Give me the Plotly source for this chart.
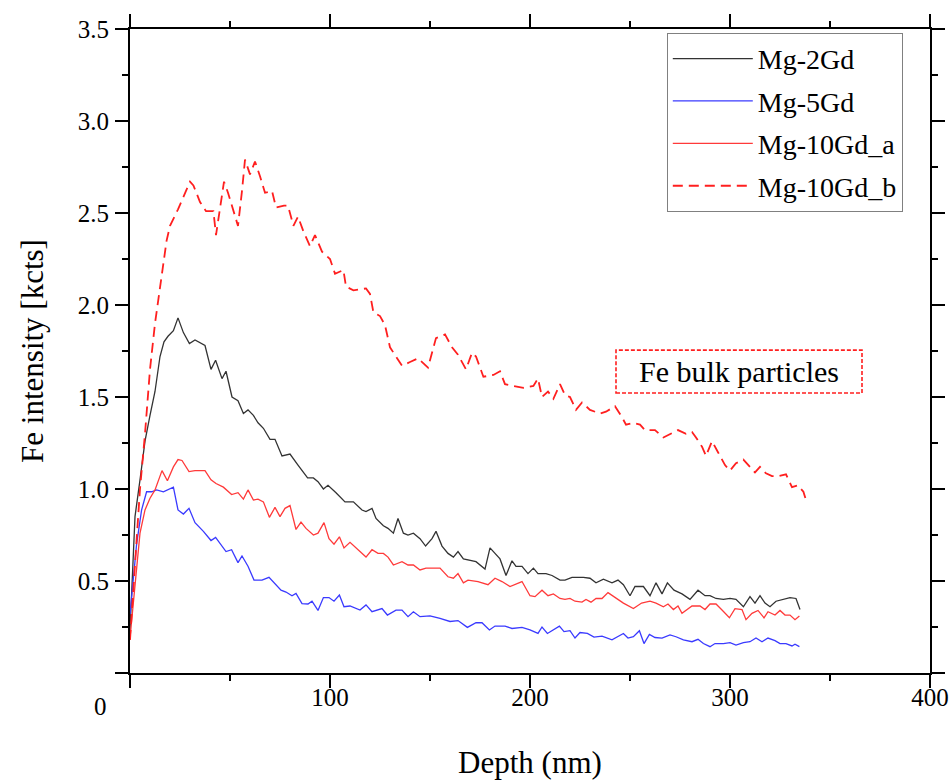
import plotly.graph_objects as go

# ---------------- data ----------------
d_2gd = [0, 2.5, 5, 7.5, 10, 12.5, 15, 17, 19, 21.7, 24, 26.7, 29.7, 32.5, 37.5, 40.5, 42.8, 46, 48, 51,
         54, 56.7, 59, 61.7, 64, 66.7, 70, 72.5, 76, 80, 84, 88.8, 91.7, 94, 96.7, 99, 103, 107.5, 111.7, 116,
         118, 121, 123, 126.7, 129, 131.7, 134, 136.7, 139, 141.7, 145, 147.8, 151, 153, 156, 159, 161.7, 164,
         166.7, 170, 173, 177.5, 180, 182.5, 185, 188, 191, 193, 196, 199, 201.7, 204, 208, 211, 215, 217.5,
         221, 226.7, 230, 233, 236.7, 241, 244, 246.7, 250, 252.5, 256.7, 260, 263, 266, 268.7, 272, 276, 280,
         284, 287.5, 290, 293, 296.7, 300, 303, 306.7, 310, 312.5, 315, 317.5, 320, 323, 326.7, 330, 333, 335]
v_2gd = [0.23, 0.85, 1.05, 1.26, 1.40, 1.53, 1.72, 1.80, 1.83, 1.86, 1.93, 1.85, 1.79, 1.81, 1.78, 1.65, 1.70, 1.60, 1.64, 1.50,
         1.48, 1.41, 1.43, 1.40, 1.36, 1.33, 1.27, 1.27, 1.18, 1.19, 1.13, 1.06, 1.06, 1.04, 1.00, 1.02, 0.98, 0.93, 0.93, 0.886,
         0.877, 0.895, 0.84, 0.80, 0.786, 0.76, 0.84, 0.76, 0.75, 0.76, 0.73, 0.69, 0.73, 0.77, 0.69, 0.65, 0.63, 0.66,
         0.62, 0.61, 0.605, 0.565, 0.68, 0.65, 0.62, 0.53, 0.61, 0.58, 0.58, 0.54, 0.57, 0.54, 0.54, 0.53, 0.505, 0.505,
         0.52, 0.52, 0.515, 0.49, 0.51, 0.49, 0.505, 0.48, 0.42, 0.47, 0.47, 0.42, 0.49, 0.43, 0.49, 0.45, 0.43, 0.40,
         0.45, 0.42, 0.42, 0.405, 0.40, 0.405, 0.40, 0.36, 0.415, 0.38, 0.42, 0.38, 0.36, 0.39, 0.40, 0.41, 0.405, 0.345]

d_5gd = [0, 3.3, 5.8, 8.3, 10.8, 13.3, 16.7, 19, 21.7, 24, 26.7, 29.5, 32.5, 36.7, 40.5, 42.8, 46, 48, 50.8, 54,
         56, 59, 62, 66, 69.5, 72.5, 75.5, 78, 81, 83, 86, 89, 91, 94, 96.7, 99.5, 102, 104.7, 107, 110,
         115, 118, 121, 126, 128.7, 133, 136, 139, 141.7, 145, 150, 155, 160, 164, 168.7, 173, 176, 179.7, 182.5, 187.5,
         191, 196, 200, 204, 206, 208.7, 211.7, 214.7, 217, 220, 222.5, 225, 228.7, 232, 236, 241, 246.7, 249, 251.7, 254.7,
         257, 259.7, 262.5, 266, 270, 273, 276.7, 281, 284, 286.7, 290, 292.5, 296.7, 300, 303, 306.7, 310, 313, 316, 319,
         322.5, 325, 328, 331, 332.5, 334.7]
v_5gd = [0.32, 0.70, 0.886, 0.985, 0.985, 0.995, 0.985, 0.995, 1.01, 0.886, 0.864, 0.895, 0.817, 0.77, 0.72, 0.737, 0.687, 0.66, 0.67, 0.60,
         0.636, 0.58, 0.505, 0.505, 0.52, 0.484, 0.45, 0.44, 0.42, 0.433, 0.377, 0.375, 0.39, 0.34, 0.41, 0.41, 0.39, 0.424, 0.36, 0.364,
         0.342, 0.37, 0.333, 0.35, 0.315, 0.342, 0.342, 0.306, 0.333, 0.306, 0.31, 0.297, 0.28, 0.285, 0.248, 0.273, 0.273, 0.234, 0.255, 0.255,
         0.242, 0.248, 0.234, 0.215, 0.25, 0.215, 0.234, 0.255, 0.225, 0.23, 0.19, 0.22, 0.215, 0.195, 0.20, 0.18, 0.215, 0.19, 0.197, 0.23,
         0.16, 0.21, 0.193, 0.19, 0.207, 0.197, 0.18, 0.17, 0.183, 0.16, 0.143, 0.16, 0.16, 0.165, 0.152, 0.165, 0.17, 0.19, 0.17, 0.19,
         0.176, 0.16, 0.16, 0.147, 0.156, 0.143]

d_10a = [0, 2.5, 5, 7.5, 10, 12.5, 16, 18.7, 21.7, 24, 26, 29.5, 32.5, 37.5, 40.5, 43, 46.7, 50.8, 54, 56.7,
         59, 61.7, 64, 66.7, 69.7, 72.5, 75, 77.5, 80, 83, 85.5, 88, 91.7, 94, 97, 99.5, 102, 104.7, 107, 110,
         114, 118, 121, 124, 126.7, 129, 131.7, 136, 139, 141.7, 145, 148, 155, 159, 161.7, 164, 166.7, 169, 174, 179,
         182.5, 186, 190, 192.5, 196, 200, 202.5, 206, 209, 211.7, 215, 217.5, 220, 222.5, 226, 228, 230.5, 233, 236, 239,
         242.5, 246.7, 251.7, 255.8, 260, 263, 266.7, 269, 271.7, 274, 276, 281, 285, 287.5, 290, 293, 296, 299.7, 302.5, 306,
         308, 311, 314, 317, 319, 322.5, 325, 327.5, 330, 332.5, 334.7]
v_10a = [0.19, 0.47, 0.76, 0.886, 0.95, 0.995, 1.10, 1.045, 1.12, 1.16, 1.155, 1.095, 1.10, 1.10, 1.05, 1.03, 1.01, 0.97, 0.98, 0.945,
         0.995, 0.94, 0.945, 0.93, 0.846, 0.90, 0.85, 0.895, 0.91, 0.78, 0.82, 0.786, 0.75, 0.76, 0.817, 0.73, 0.70, 0.74, 0.68, 0.71,
         0.67, 0.63, 0.67, 0.65, 0.65, 0.63, 0.587, 0.605, 0.587, 0.587, 0.56, 0.57, 0.57, 0.523, 0.515, 0.54, 0.49, 0.505, 0.497, 0.48,
         0.515, 0.497, 0.47, 0.48, 0.497, 0.42, 0.415, 0.45, 0.42, 0.43, 0.405, 0.40, 0.405, 0.39, 0.385, 0.40, 0.385, 0.405, 0.405, 0.437,
         0.41, 0.38, 0.35, 0.38, 0.39, 0.38, 0.36, 0.375, 0.345, 0.364, 0.324, 0.364, 0.364, 0.345, 0.375, 0.375, 0.342, 0.30, 0.35, 0.345,
         0.29, 0.324, 0.34, 0.30, 0.333, 0.315, 0.34, 0.315, 0.315, 0.29, 0.31]

d_10b = [0, 2.5, 5, 7.5, 10, 12.5, 15.8, 18.3, 20, 24, 28, 30, 31.7, 35, 38, 41.7, 43, 46, 47, 49,
         51.7, 54, 56, 57.5, 60, 62.5, 65, 67.5, 71, 73, 77, 79, 81.7, 84, 86.7, 90, 92.5, 96, 100, 102.5,
         106.7, 108, 111.7, 118, 120, 121.7, 125, 127.5, 130, 133, 136, 140, 144, 149, 151.7, 153, 157.5, 161, 164, 168,
         171, 173, 176.7, 181.7, 185, 187.5, 191.7, 196.7, 201.7, 204, 206, 209, 211.7, 215, 217.5, 220, 223, 226, 230, 235,
         238, 242.5, 246, 248, 251.7, 255, 257.5, 262.5, 266.7, 270, 274, 278, 281, 283, 286, 288, 291, 294, 297.5, 300,
         303, 306.7, 309, 312.5, 315, 318, 321, 324, 328, 331, 334, 336.7, 338]
v_10b = [0.18, 0.60, 1.00, 1.30, 1.65, 1.90, 2.15, 2.35, 2.43, 2.52, 2.62, 2.67, 2.65, 2.56, 2.51, 2.51, 2.38, 2.61, 2.67, 2.61,
         2.51, 2.43, 2.62, 2.79, 2.71, 2.78, 2.70, 2.61, 2.62, 2.53, 2.54, 2.54, 2.43, 2.48, 2.40, 2.32, 2.38, 2.29, 2.25, 2.17,
         2.19, 2.10, 2.08, 2.09, 2.06, 1.96, 1.94, 1.89, 1.77, 1.72, 1.67, 1.69, 1.71, 1.66, 1.76, 1.82, 1.84, 1.77, 1.73, 1.65,
         1.74, 1.72, 1.61, 1.62, 1.64, 1.57, 1.56, 1.55, 1.56, 1.60, 1.50, 1.53, 1.49, 1.57, 1.51, 1.50, 1.43, 1.47, 1.43, 1.41,
         1.42, 1.45, 1.39, 1.35, 1.36, 1.35, 1.32, 1.32, 1.28, 1.30, 1.32, 1.30, 1.31, 1.28, 1.23, 1.18, 1.26, 1.20, 1.13, 1.10,
         1.14, 1.16, 1.13, 1.09, 1.12, 1.085, 1.07, 1.07, 1.08, 1.01, 1.02, 0.985, 0.94]

series_names = ["Mg-2Gd", "Mg-5Gd", "Mg-10Gd_a", "Mg-10Gd_b"]
x_ticks = [0, 100, 200, 300, 400]
x_ticktext = ["", "100", "200", "300", "400"]
x_minor = [50, 150, 250, 350]
y_ticks = [0, 0.5, 1.0, 1.5, 2.0, 2.5, 3.0, 3.5]
y_ticktext = ["", "0.5", "1.0", "1.5", "2.0", "2.5", "3.0", "3.5"]
y_minor = [0.25, 0.75, 1.25, 1.75, 2.25, 2.75, 3.25]
annotation_text = "Fe bulk particles"

FONT = "Liberation Serif"

fig = go.Figure()
styles = [
    dict(color="#333333", width=1.3, dash="solid"),
    dict(color="#3a3aff", width=1.3, dash="solid"),
    dict(color="#ff3a3a", width=1.3, dash="solid"),
    dict(color="#ff1f1f", width=1.8, dash="10px,6px"),
]
for i, (xs, ys) in enumerate([(d_2gd, v_2gd), (d_5gd, v_5gd), (d_10a, v_10a), (d_10b, v_10b)]):
    fig.add_trace(go.Scatter(x=xs, y=ys, mode="lines", name=series_names[i],
                             line=styles[i], legendgroup=f"g{i}"))

axis_common = dict(
    showline=True, linecolor="black", linewidth=2, mirror="ticks",
    ticks="outside", ticklen=13, tickwidth=2, tickcolor="black",
    showgrid=False, zeroline=False, automargin=False,
    tickfont=dict(family=FONT, size=25, color="black"),
)

fig.update_xaxes(
    range=[0, 400], tickmode="array", tickvals=x_ticks, ticktext=x_ticktext,
    minor=dict(tickmode="array", tickvals=x_minor, ticks="outside", ticklen=6, tickwidth=2, tickcolor="black"),
    title=dict(text="Depth (nm)", font=dict(family=FONT, size=31, color="black"), standoff=58),
    ticklabelstandoff=-12,
    **axis_common,
)
fig.update_yaxes(
    range=[0, 3.5], tickmode="array", tickvals=y_ticks, ticktext=y_ticktext,
    minor=dict(tickmode="array", tickvals=y_minor, ticks="outside", ticklen=6, tickwidth=2, tickcolor="black"),
    title=dict(text="Fe intensity [kcts]", font=dict(family=FONT, size=31, color="black"), standoff=25),
    ticklabelstandoff=1,
    **axis_common,
)

# "0" origin label placed at bottom-left like the reference
fig.add_annotation(x=0, y=0, xref="x", yref="y", text="0", showarrow=False,
                   xshift=-30, yshift=-33, font=dict(family=FONT, size=25, color="black"))

# dashed-box annotation
fig.add_shape(type="rect", xref="x", yref="y", x0=243, x1=366, y0=1.522, y1=1.755,
              line=dict(color="#ff1f1f", width=1.6, dash="4px,2px"), fillcolor="rgba(0,0,0,0)")
fig.add_annotation(x=304.5, y=1.638, xref="x", yref="y", text=annotation_text, showarrow=False,
                   font=dict(family=FONT, size=30, color="black"))

fig.update_layout(
    width=951, height=780,
    margin=dict(l=130, r=21, t=29, b=107, autoexpand=False),
    paper_bgcolor="white", plot_bgcolor="white",
    font=dict(family=FONT, size=25, color="black"),
    showlegend=True,
    legend=dict(x=0.671, y=0.994, xanchor="left", yanchor="top",
                bgcolor="white", bordercolor="#808080", borderwidth=1,
                font=dict(family=FONT, size=28, color="black"),
                traceorder="grouped", tracegroupgap=3, itemwidth=80),
)

fig.write_html("out.html")
